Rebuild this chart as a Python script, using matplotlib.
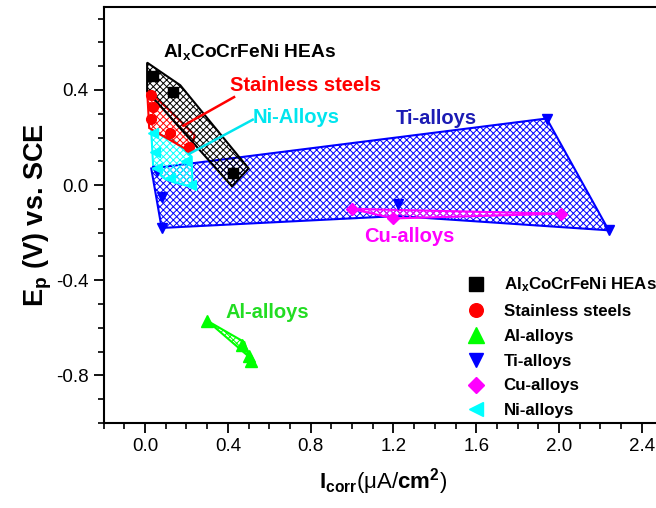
import matplotlib
matplotlib.use("Agg")
import matplotlib.pyplot as plt
from matplotlib.patches import Polygon
from matplotlib.ticker import MultipleLocator, FormatStrFormatter

plt.rcParams['font.family'] = ['Liberation Sans', 'DejaVu Sans']
plt.rcParams['mathtext.fontset'] = 'custom'
plt.rcParams['mathtext.rm'] = 'Liberation Sans'
plt.rcParams['mathtext.bf'] = 'Liberation Sans:bold'
plt.rcParams['mathtext.it'] = 'Liberation Sans:italic'
plt.rcParams['hatch.linewidth'] = 0.7

# ---- data (I_corr in uA/cm2, Ep in V vs SCE) ----
hea_x = [0.04, 0.135, 0.425]
hea_y = [0.46, 0.39, 0.05]
hea_hull_x = [0.01, 0.17, 0.50, 0.42, 0.01]
hea_hull_y = [0.515, 0.42, 0.07, -0.005, 0.395]

ss_x = [0.03, 0.04, 0.03, 0.12, 0.21]
ss_y = [0.38, 0.33, 0.28, 0.22, 0.16]
ss_hull_x = [0.01, 0.02, 0.10, 0.22, 0.24, 0.10]
ss_hull_y = [0.40, 0.24, 0.20, 0.14, 0.21, 0.33]

al_x = [0.30, 0.47, 0.50, 0.51]
al_y = [-0.57, -0.67, -0.72, -0.74]
al_hull_x = [0.30, 0.48, 0.51, 0.50]
al_hull_y = [-0.57, -0.66, -0.74, -0.72]

ti_x = [0.06, 0.08, 0.08, 1.22, 1.94, 2.24]
ti_y = [0.06, -0.05, -0.18, -0.08, 0.28, -0.19]
ti_hull_x = [0.03, 1.94, 2.24, 1.22, 0.08]
ti_hull_y = [0.07, 0.28, -0.19, -0.13, -0.18]

cu_x = [1.00, 1.20, 2.01]
cu_y = [-0.10, -0.14, -0.12]

ni_x = [0.04, 0.05, 0.06, 0.12, 0.22, 0.20]
ni_y = [0.22, 0.14, 0.07, 0.03, 0.00, 0.10]
ni_hull_x = [0.03, 0.04, 0.10, 0.23, 0.225, 0.135]
ni_hull_y = [0.227, 0.066, 0.024, -0.01, 0.12, 0.19]

labels = [r'Al$_{\mathbf{x}}$CoCrFeNi HEAs', 'Stainless steels', 'Al-alloys',
          'Ti-alloys', 'Cu-alloys', 'Ni-alloys']

fig = plt.figure(figsize=(6.56, 5.08), dpi=100)
ax = fig.add_axes([0.158, 0.1673, 0.852, 0.8195])


def hull(xs, ys, color, z):
    p = Polygon(list(zip(xs, ys)), closed=True, facecolor='none',
                edgecolor=color, hatch='xxxxx', linewidth=1.5, zorder=z)
    ax.add_patch(p)


hull(ti_hull_x, ti_hull_y, '#0000FF', 1)
hull(cu_x, cu_y, '#FF00FF', 2)
hull(ni_hull_x, ni_hull_y, '#00FFFF', 3)
hull(ss_hull_x, ss_hull_y, '#FF0000', 4)
hull(al_hull_x, al_hull_y, '#00FF00', 4)
hull(hea_hull_x, hea_hull_y, '#000000', 5)

ms = 7
ax.plot(ti_x, ti_y, 'v', color='#0000FF', ms=ms, ls='none', zorder=6, label=labels[3])
ax.plot(cu_x, cu_y, 'D', color='#FF00FF', ms=ms - 1, ls='none', zorder=6, label=labels[4])
ax.plot(ni_x, ni_y, '<', color='#00FFFF', ms=ms, ls='none', zorder=6, label=labels[5])
ax.plot(ss_x, ss_y, 'o', color='#FF0000', ms=ms, ls='none', zorder=6, label=labels[1])
ax.plot(al_x, al_y, '^', color='#00FF00', ms=ms + 1, ls='none', zorder=6, label=labels[2])
ax.plot(hea_x, hea_y, 's', color='#000000', ms=ms, ls='none', zorder=7, label=labels[0])

# annotations
tfs = 14.5
ax.text(0.085, 0.56, r'Al$_{\mathbf{x}}$CoCrFeNi HEAs', fontsize=13.8, fontweight='bold',
        color='black', va='center', ha='left')
ax.text(0.41, 0.42, 'Stainless steels', fontsize=tfs, fontweight='bold',
        color='#FF0000', va='center', ha='left')
ax.plot([0.43, 0.185], [0.37, 0.25], color='#FF0000', lw=1.8, zorder=8)
ax.text(0.52, 0.285, 'Ni-Alloys', fontsize=tfs, fontweight='bold',
        color='#00E5EE', va='center', ha='left')
ax.plot([0.52, 0.21], [0.275, 0.13], color='#00E5EE', lw=1.8, zorder=8)
ax.text(1.21, 0.28, 'Ti-alloys', fontsize=tfs, fontweight='bold',
        color='#1C1CB4', va='center', ha='left')
ax.text(1.06, -0.215, 'Cu-alloys', fontsize=tfs, fontweight='bold',
        color='#FF00FF', va='center', ha='left')
ax.text(0.39, -0.535, 'Al-alloys', fontsize=tfs, fontweight='bold',
        color='#22DD22', va='center', ha='left')

ax.set_xlim(-0.2, 2.5)
ax.set_ylim(-1.0, 0.75)
ax.xaxis.set_major_locator(MultipleLocator(0.4))
ax.xaxis.set_minor_locator(MultipleLocator(0.1))
ax.yaxis.set_major_locator(MultipleLocator(0.4))
ax.yaxis.set_minor_locator(MultipleLocator(0.1))
ax.tick_params(which='major', direction='out', length=7, width=1.3, labelsize=13.5, pad=4)
ax.tick_params(which='minor', direction='out', length=4, width=1.2)
ax.xaxis.set_major_formatter(FormatStrFormatter('%.1f'))
ax.yaxis.set_major_formatter(FormatStrFormatter('%.1f'))
for s in ax.spines.values():
    s.set_linewidth(1.5)

ax.set_ylabel(r'$\mathbf{E}_{\mathbf{p}}$ (V) vs. SCE', fontsize=19.5, fontweight='bold', labelpad=1)
ax.set_xlabel(r'$\mathbf{I}_{\mathbf{corr}}$($\mathrm{\mu}$A/$\mathbf{cm}^{\mathbf{2}}$)', fontsize=16, labelpad=8)

h, l = ax.get_legend_handles_labels()
order = [l.index(x) for x in labels]
leg = ax.legend([h[i] for i in order], [l[i] for i in order], loc='upper left',
                bbox_to_anchor=(457 / 656, 1 - 267 / 508), bbox_transform=fig.transFigure,
                frameon=False, prop={'weight': 'bold', 'size': 12.2}, handlelength=1.2,
                handletextpad=1.05, labelspacing=0.58, borderpad=0, markerscale=1.4)

fig.savefig('out.png', dpi=100)
